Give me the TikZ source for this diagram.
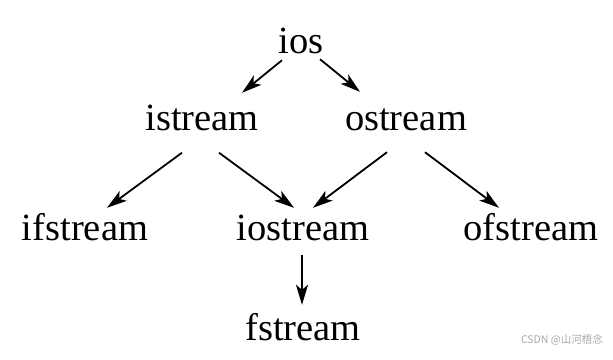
\documentclass[tikz,border=0pt]{standalone}
\usepackage{fontspec}
\setmainfont{Liberation Serif}
\newfontfamily\cjk{Noto Sans CJK SC}
\usetikzlibrary{positioning,arrows.meta}
\begin{document}
\begin{tikzpicture}[on grid, main/.style = {inner sep=0pt, text height=27pt, text depth=0pt, font=\fontsize{38.5}{46}\selectfont}, arr/.style = {-{Stealth[length=20pt, width=12pt, inset=5pt]}, line width=1.8pt}]
            \useasboundingbox (0,0) rectangle (613pt,-359pt);
            \node[main] (ios) at (301pt,-40pt) {ios};
            \node[main] (istream) [below left=77pt and 99pt of ios] {istream};
            \node[main] (ostream) [below right=77pt and 105pt of ios] {ostream};
            \node[main] (ifstream) [below left=110pt and 117pt of istream] {ifstream};
            \node[main] (iostream) [below right=110pt and 101pt of istream] {iostream};
            \node[main] (ofstream) [below right=110pt and 125pt of ostream] {ofstream};
            \node[main] (fstream) [below=100pt of iostream] {fstream};
            \draw[arr] ([xshift=-19pt,yshift=-6.5pt]ios.south) -- ([xshift=40pt,yshift=10.5pt]istream.north);
            \draw[arr] ([xshift=19pt,yshift=-5.5pt]ios.south) -- ([xshift=-46pt,yshift=11.5pt]ostream.north);
            \draw[arr] ([xshift=-20pt,yshift=-22pt]istream.south) -- ([xshift=22pt,yshift=5.5pt]ifstream.north);
            \draw[arr] ([xshift=17pt,yshift=-22pt]istream.south) -- ([xshift=-9pt,yshift=5.5pt]iostream.north);
            \draw[arr] ([xshift=-19pt,yshift=-21.5pt]ostream.south) -- ([xshift=10pt,yshift=5.5pt]iostream.north);
            \draw[arr] ([xshift=19pt,yshift=-21.5pt]ostream.south) -- ([xshift=-32pt,yshift=5.5pt]ofstream.north);
            \draw[arr] ([xshift=-1pt,yshift=-14.5pt]iostream.south) -- ([xshift=-1pt,yshift=8.5pt]fstream.north);
            \node[anchor=base east, inner sep=0pt, text=gray!70, font=\cjk\fontsize{10.5}{12}\selectfont] (mark) at (603pt,-343pt) {CSDN @山河梧念};
        \end{tikzpicture}
\end{document}
